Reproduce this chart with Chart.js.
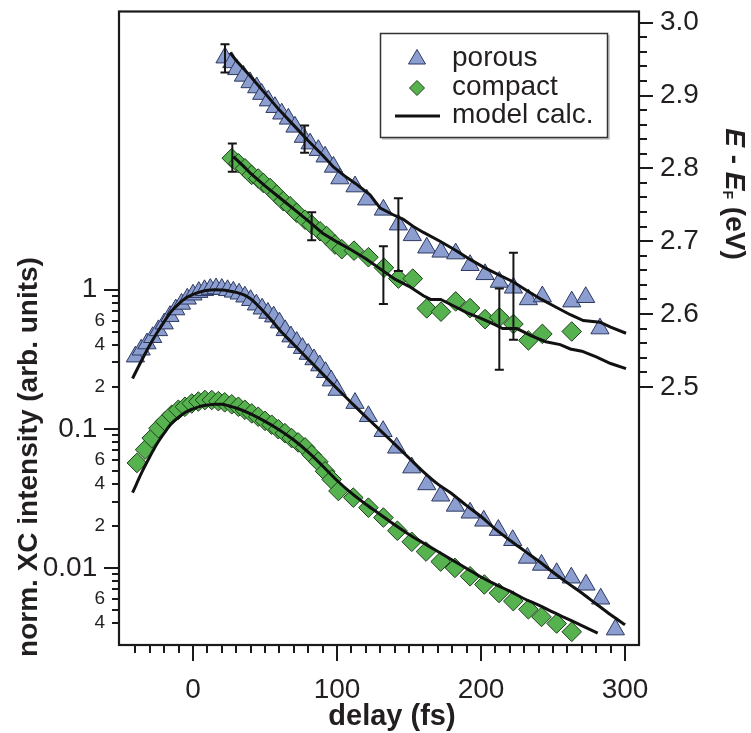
<!DOCTYPE html>
<html><head><meta charset="utf-8">
<script src="https://cdn.jsdelivr.net/npm/chart.js@4.4.1/dist/chart.umd.min.js"></script>
<style>html,body{margin:0;padding:0;background:#fff;}#c{display:block;}</style>
</head><body>
<canvas id="c" width="751" height="733"></canvas>
<script>
// ---------- data (delay in fs) ----------
const porousIT = [-40,-36,-32,-28,-24,-20,-16,-12,-8,-4,0,4,8,12,16,20,24,28,32,36,40,44,48,52,56,60,64,68,72,76,80,84,88,92,96,100,112.5,121.8,132,141.4,151.9,162.3,172,182.2,192.4,201.9,212,222,232.2,242,252.5,262.7,272.9,283.1,293.3];
const porousI = [0.33,0.37,0.41,0.455,0.51,0.57,0.645,0.72,0.79,0.86,0.92,0.96,0.99,1.01,1.02,1.01,0.99,0.965,0.935,0.89,0.84,0.78,0.73,0.68,0.64,0.58,0.51,0.46,0.42,0.38,0.345,0.315,0.285,0.255,0.222,0.19,0.153,0.123,0.096,0.073,0.0526,0.0398,0.033,0.0279,0.0249,0.0218,0.0187,0.0158,0.0118,0.0105,0.00915,0.0085,0.00756,0.0060,0.0036];

const compactIT = [-39,-33.3,-28.7,-24,-19.4,-14.8,-10.2,-5.6,-0.9,3.7,8.3,13,17.6,22,26.9,31.5,36,40.8,45.3,50,54.6,59.2,63.8,68.5,73,77.8,82.4,87,91.7,96.3,101,111.3,121.8,132.2,141.9,151.9,161.8,172,181.9,192.4,202.3,212.5,222.4,232.9,242,252.5,263];
const compactI = [0.0568,0.0708,0.0857,0.101,0.113,0.126,0.137,0.144,0.152,0.157,0.161,0.161,0.158,0.155,0.150,0.144,0.137,0.129,0.122,0.114,0.107,0.0993,0.093,0.0857,0.0798,0.0735,0.065,0.058,0.0495,0.0432,0.0357,0.032,0.0271,0.023,0.0185,0.0154,0.0131,0.0111,0.0100,0.0087,0.0076,0.0066,0.00577,0.00504,0.00444,0.00398,0.00347];

const modelPorousIT = [-42,-35,-30,-25,-20,-15,-10,-5,0,5,10,15,20,25,30,35,40,45,50,55,60,70,80,90,100,110,120,130,140,150,160,170,180,190,200,210,220,230,240,250,260,270,280,290,300];
const modelPorousI = [0.23,0.32,0.40,0.49,0.59,0.70,0.79,0.87,0.925,0.965,0.99,1.0,0.995,0.98,0.957,0.92,0.86,0.77,0.68,0.595,0.515,0.404,0.316,0.248,0.195,0.154,0.122,0.0975,0.0776,0.0617,0.049,0.040,0.034,0.028,0.0234,0.019,0.0158,0.0133,0.0112,0.0093,0.0078,0.0066,0.0055,0.0046,0.0039];

const modelCompactIT = [-42,-35,-30,-25,-20,-15,-10,-5,0,5,10,15,20,25,30,40,50,60,70,80,90,100,110,120,130,140,150,160,170,180,190,200,210,220,230,240,250,260,270,281];
const modelCompactI = [0.0347,0.050,0.063,0.078,0.093,0.109,0.121,0.132,0.139,0.145,0.148,0.150,0.150,0.146,0.141,0.128,0.113,0.098,0.083,0.068,0.054,0.0425,0.0345,0.0287,0.0242,0.0204,0.0174,0.0151,0.0131,0.0114,0.0099,0.0086,0.0076,0.0068,0.0060,0.0054,0.0048,0.0043,0.00385,0.0034];

const porousET = [22.2,26.9,30.3,35,39.6,44.2,47.7,52.3,56.9,61.6,66.2,70.8,76.6,81.3,87,91.7,97.5,102,112.5,120.6,132.2,142.6,152.3,162.3,172.2,182.4,192.4,202.8,212.7,222.5,232.9,242.6,263,272.7,282.6];
const porousE = [2.952,2.9455,2.936,2.927,2.918,2.911,2.902,2.893,2.884,2.875,2.868,2.857,2.843,2.834,2.825,2.816,2.802,2.786,2.775,2.757,2.743,2.7227,2.708,2.691,2.6854,2.683,2.667,2.6545,2.644,2.636,2.620,2.624,2.617,2.623,2.580];

const compactET = [26.9,31.5,36.1,40.7,45.3,48.8,53.5,58.1,62.7,67.4,72,77.8,82.4,88.2,92.8,98.6,103.3,111.8,121.8,132.6,142.6,152.6,162.3,172.2,182.4,192.4,202.8,212.7,222.5,232.9,242.6,263];
const compactE = [2.814,2.807,2.800,2.791,2.786,2.780,2.773,2.764,2.755,2.748,2.739,2.7295,2.7227,2.7137,2.707,2.6954,2.689,2.687,2.678,2.6636,2.6486,2.6486,2.6077,2.6032,2.6173,2.6081,2.593,2.5955,2.5863,2.5637,2.5727,2.576];

const modelPorousET = [25.7,30,40,50,60,70,80,90,97.5,105,113,122.9,130,139,146,152.7,160,171.5,182,192.4,202,212,222.5,232,242,252.5,262,271,282.6,290,300.7];
const modelPorousE = [2.959,2.948,2.926,2.903,2.880,2.859,2.838,2.818,2.802,2.790,2.779,2.7636,2.7454,2.7363,2.730,2.7205,2.712,2.700,2.688,2.675,2.664,2.654,2.644,2.632,2.620,2.609,2.599,2.591,2.5887,2.582,2.5736];

const modelCompactET = [28,35,40,50,60,70,80,90,100,110,120,130,140,150,160,165,172,180,190,200,210,215,225,235,245,255,262,270,280,290,300.7];
const modelCompactE = [2.816,2.803,2.793,2.776,2.760,2.744,2.728,2.711,2.699,2.688,2.676,2.662,2.648,2.638,2.625,2.620,2.620,2.612,2.602,2.594,2.585,2.580,2.580,2.570,2.562,2.558,2.552,2.549,2.541,2.532,2.525];

// error bars (delay, low, high) in eV
const errPorousT = [22.2,77.5,142.6,222.5];
const errPorousLow = [2.9318,2.8214,2.659,2.5645];
const errPorousHigh = [2.9704,2.859,2.759,2.684];
const errCompactT = [27.3,82.4,132.2,212.7];
const errCompactLow = [2.7955,2.7014,2.6136,2.5236];
const errCompactHigh = [2.834,2.7396,2.6932,2.635];

// ticks
const xTicks = [-40,-30,-20,-10,0,10,20,30,40,50,60,70,80,90,100,110,120,130,140,150,160,170,180,190,200,210,220,230,240,250,260,270,280,290,300];
const xMajorTicks = [0,100,200,300];
const yITicks = [0.004,0.005,0.006,0.007,0.008,0.009,0.01,0.02,0.03,0.04,0.05,0.06,0.07,0.08,0.09,0.1,0.2,0.3,0.4,0.5,0.6,0.7,0.8,0.9,1];
const yIMajorTicks = [0.01,0.1,1];
const yIMajorLabels = ['0.01','0.1','1'];
const yISmallTicks = [0.004,0.006,0.02,0.04,0.06,0.2,0.4,0.6];
const yISmallLabels = ['4','6','2','4','6','2','4','6'];
const yETicks = [2.5,2.52,2.54,2.56,2.58,2.6,2.62,2.64,2.66,2.68,2.7,2.72,2.74,2.76,2.78,2.8,2.82,2.84,2.86,2.88,2.9,2.92,2.94,2.96,2.98,3.0];
const yEMajorTicks = [2.5,2.6,2.7,2.8,2.9,3.0];
const yEMajorLabels = ['2.5','2.6','2.7','2.8','2.9','3.0'];

const legendLabels = ['porous','compact','model calc.'];

// axis ranges
const X_MIN = -51.4, X_MAX = 309.7;
const YI_MIN = 0.00279, YI_MAX = 100;
const YE_MIN = 2.1455, YE_MAX = 3.0154;

// ---------- styling ----------
const FONT = "'Liberation Sans', Arial, Helvetica, sans-serif";
const TXT = '#231f20';
const TRI_FILL = '#8c9dd0', TRI_EDGE = '#2c3960';
const DIA_FILL = '#56b24f', DIA_EDGE = '#1d3f1b';
const near = (a, b) => Math.abs(a - b) <= 1e-6 * Math.max(Math.abs(a), Math.abs(b), 1e-9);
const idxOf = (arr, v) => arr.findIndex(t => near(t, v));
const pts = (xs, ys) => xs.map((x, i) => ({x: x, y: ys[i]}));

const decor = {
  id: 'decor',
  afterDatasetsDraw(chart) {
    const c = chart.ctx, sx = chart.scales.x, sE = chart.scales.yE;
    c.save();
    c.strokeStyle = '#151515'; c.lineWidth = 2;
    const bars = [[errPorousT, errPorousLow, errPorousHigh], [errCompactT, errCompactLow, errCompactHigh]];
    bars.forEach(([T, L, H]) => {
      T.forEach((t, i) => {
        const x = sx.getPixelForValue(t), y1 = sE.getPixelForValue(L[i]), y2 = sE.getPixelForValue(H[i]);
        c.beginPath();
        c.moveTo(x, y1); c.lineTo(x, y2);
        c.moveTo(x - 4.5, y1); c.lineTo(x + 4.5, y1);
        c.moveTo(x - 4.5, y2); c.lineTo(x + 4.5, y2);
        c.stroke();
      });
    });
    c.restore();
  },
  afterDraw(chart) {
    const c = chart.ctx, a = chart.chartArea, sx = chart.scales.x, sI = chart.scales.yI, sE = chart.scales.yE;
    c.save();
    c.strokeStyle = '#1a1a1a'; c.lineWidth = 2.2;
    c.strokeRect(a.left, a.top, a.right - a.left, a.bottom - a.top);
    c.lineWidth = 2;
    c.beginPath();
    xTicks.forEach(v => {
      const p = Math.round(sx.getPixelForValue(v));
      const len = xMajorTicks.includes(v) ? 16 : 8;
      c.moveTo(p, a.bottom); c.lineTo(p, a.bottom + len);
    });
    yITicks.forEach(v => {
      const p = Math.round(sI.getPixelForValue(v));
      const len = idxOf(yIMajorTicks, v) >= 0 ? 15 : 7;
      c.moveTo(a.left - len, p); c.lineTo(a.left, p);
    });
    yETicks.forEach(v => {
      const p = Math.round(sE.getPixelForValue(v));
      const len = idxOf(yEMajorTicks, v) >= 0 ? 14 : 8;
      c.moveTo(a.right, p); c.lineTo(a.right + len, p);
    });
    c.stroke();

    // titles
    c.fillStyle = TXT;
    c.textAlign = 'center'; c.textBaseline = 'middle';
    c.font = 'bold 29px ' + FONT;
    c.fillText('delay (fs)', 392, 717);
    c.save();
    c.translate(29, 457); c.rotate(-Math.PI / 2);
    c.font = 'bold 28px ' + FONT;
    c.fillText('norm. XC intensity (arb. units)', 0, 0);
    c.restore();
    // right title  E - E_F (eV)
    c.save();
    c.translate(734, 194); c.rotate(Math.PI / 2);
    const segs = [
      {t: 'E', f: 'italic bold 28px ' + FONT, dy: 0},
      {t: ' - ', f: 'bold 28px ' + FONT, dy: 0},
      {t: 'E', f: 'italic bold 28px ' + FONT, dy: 0},
      {t: 'F', f: 'bold 14px ' + FONT, dy: 7},
      {t: ' (eV)', f: 'bold 28px ' + FONT, dy: 0}
    ];
    let total = 0;
    segs.forEach(s => { c.font = s.f; s.w = c.measureText(s.t).width; total += s.w; });
    let xx = -total / 2;
    c.textAlign = 'left';
    segs.forEach(s => { c.font = s.f; c.fillText(s.t, xx, s.dy); xx += s.w; });
    c.restore();

    // legend
    c.lineWidth = 1.5; c.strokeStyle = '#333';
    c.strokeRect(380.5, 33.5, 227, 104);
    c.strokeStyle = 'rgba(0,0,0,0.25)';
    c.beginPath(); c.moveTo(609, 35); c.lineTo(609, 139); c.lineTo(382, 139); c.stroke();
    c.lineWidth = 1;
    c.fillStyle = TRI_FILL; c.strokeStyle = TRI_EDGE;
    c.beginPath(); c.moveTo(417, 49.5); c.lineTo(425.5, 64); c.lineTo(408.5, 64); c.closePath(); c.fill(); c.stroke();
    c.fillStyle = DIA_FILL; c.strokeStyle = DIA_EDGE;
    c.beginPath(); c.moveTo(417, 80.5); c.lineTo(424.5, 88); c.lineTo(417, 95.5); c.lineTo(409.5, 88); c.closePath(); c.fill(); c.stroke();
    c.strokeStyle = '#111'; c.lineWidth = 3;
    c.beginPath(); c.moveTo(395, 116); c.lineTo(440, 116); c.stroke();
    c.fillStyle = TXT; c.font = '28px ' + FONT; c.textAlign = 'left'; c.textBaseline = 'alphabetic';
    c.fillText(legendLabels[0], 452, 66);
    c.fillText(legendLabels[1], 452, 95);
    c.fillText(legendLabels[2], 452, 123);
    c.restore();
  }
};

const lineDs = (label, xs, ys, axis, smooth) => ({
  label, data: pts(xs, ys), yAxisID: axis, showLine: true, borderColor: '#111', borderWidth: 3,
  pointRadius: 0, pointHoverRadius: 0, fill: false,
  cubicInterpolationMode: smooth ? 'monotone' : 'default', tension: 0, order: 0
});
const triDs = (label, xs, ys, axis) => ({
  label, data: pts(xs, ys), yAxisID: axis, showLine: false, pointStyle: 'triangle', pointRadius: 10.5,
  backgroundColor: TRI_FILL, borderColor: TRI_EDGE, borderWidth: 1, order: 2
});
const diaDs = (label, xs, ys, axis) => ({
  label, data: pts(xs, ys), yAxisID: axis, showLine: false, pointStyle: 'rectRot', pointRadius: 9.8,
  backgroundColor: DIA_FILL, borderColor: DIA_EDGE, borderWidth: 1, order: 2
});

new Chart(document.getElementById('c'), {
  type: 'scatter',
  data: {
    datasets: [
      triDs('porous', porousIT, porousI, 'yI'),
      diaDs('compact', compactIT, compactI, 'yI'),
      triDs('porous E', porousET, porousE, 'yE'),
      diaDs('compact E', compactET, compactE, 'yE'),
      lineDs('model porous', modelPorousIT, modelPorousI, 'yI', true),
      lineDs('model compact', modelCompactIT, modelCompactI, 'yI', true),
      lineDs('model porous E', modelPorousET, modelPorousE, 'yE', false),
      lineDs('model compact E', modelCompactET, modelCompactE, 'yE', false)
    ]
  },
  options: {
    responsive: false, animation: false, devicePixelRatio: 1,
    layout: {padding: {top: 7, left: 0, right: 0, bottom: 0}},
    plugins: {legend: {display: false}, tooltip: {enabled: false}},
    events: [],
    scales: {
      x: {
        type: 'linear', position: 'bottom', min: X_MIN, max: X_MAX,
        grid: {display: false, drawTicks: false}, border: {display: false},
        afterBuildTicks: s => { s.ticks = xTicks.map(v => ({value: v})); },
        ticks: {autoSkip: false, maxRotation: 0, minRotation: 0, padding: 28, color: TXT,
          font: {family: FONT, size: 28},
          callback: v => xMajorTicks.includes(v) ? String(v) : ''},
        afterFit: s => { s.height = 88; s.paddingLeft = 0; s.paddingRight = 0; }
      },
      yI: {
        type: 'logarithmic', position: 'left', min: YI_MIN, max: YI_MAX,
        grid: {display: false, drawTicks: false}, border: {display: false},
        afterBuildTicks: s => { s.ticks = yITicks.map(v => ({value: v})); },
        ticks: {autoSkip: false, padding: 14, color: TXT,
          font: c => ({family: FONT, size: (c.tick && idxOf(yIMajorTicks, c.tick.value) >= 0) ? 28 : 19}),
          callback: v => {
            const m = idxOf(yIMajorTicks, v);
            if (m >= 0) return yIMajorLabels[m] + ' ';
            const k = idxOf(yISmallTicks, v);
            return k >= 0 ? yISmallLabels[k] : '';
          }},
        afterFit: s => { s.width = 119; s.paddingTop = 0; s.paddingBottom = 0; }
      },
      yE: {
        type: 'linear', position: 'right', min: YE_MIN, max: YE_MAX,
        grid: {display: false, drawTicks: false}, border: {display: false},
        afterBuildTicks: s => { s.ticks = yETicks.map(v => ({value: v})); },
        ticks: {autoSkip: false, padding: 21, color: TXT, font: {family: FONT, size: 28},
          callback: v => { const m = idxOf(yEMajorTicks, v); return m >= 0 ? yEMajorLabels[m] : ''; }},
        afterFit: s => { s.width = 112; s.paddingTop = 0; s.paddingBottom = 0; }
      }
    }
  },
  plugins: [decor]
});
</script>
</body></html>
